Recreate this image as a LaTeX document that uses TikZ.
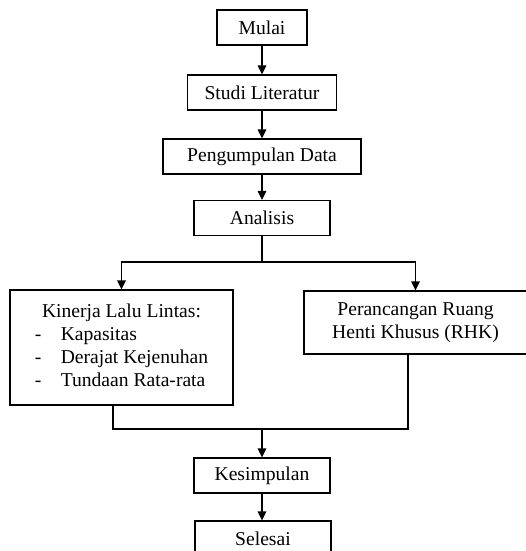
\documentclass[tikz,border=0pt]{standalone}
\usepackage{fontspec}
\setmainfont{Liberation Serif}
\usetikzlibrary{arrows.meta}

\tikzset{
	box/.style={draw, line width=1.1pt, rectangle, minimum height=35pt, inner sep=0pt,
		font=\fontsize{19.6}{23}\selectfont},
	arc/.style={line width=1.1pt},
	>={Triangle[length=9pt, width=8.5pt]}
}

\begin{document}
\begin{tikzpicture}[x=1pt, y=-1pt]

\clip (0,0) rectangle (526,551);

% NODES
\node[box, minimum width=90pt](mulai) at(262, 27.5) {Mulai};
\node[box, minimum width=149pt](studi) at(262, 92.5) {Studi Literatur};
\node[box, minimum width=198pt](data) at(262, 156.5) {Pengumpulan Data};
\node[box, minimum width=136pt](analisis) at(262, 218) {Analisis};

\node[box, minimum width=223pt, minimum height=115pt](kinerja) at(121.5, 347.5) {%
	\begin{tabular}{@{}p{26pt}@{}l@{}}
	\multicolumn{2}{@{}c@{}}{Kinerja Lalu Lintas:}\\
	-& Kapasitas\\
	-& Derajat Kejenuhan\\
	-& Tundaan Rata-rata
	\end{tabular}};
\node[box, minimum width=223pt, minimum height=63pt, align=center](rhk) at(415.5, 322.5)
	{Perancangan Ruang\\Henti Khusus (RHK)};

\node[box, minimum width=136pt](kesimpulan) at(262, 475.5) {Kesimpulan};
\node[box, minimum width=136pt](selesai) at(263, 538.5) {Selesai};

\coordinate(split) at(262, 262);
\coordinate(join) at(262, 429);

% ARCS
\foreach \u \v in{
	mulai/studi, studi/data, data/analisis, kesimpulan/selesai%
}{
	\draw[arc, ->] (\u.south) -- (\u.south |- \v.north);
}

\draw[arc] (analisis) -- (split);
\draw[arc, ->] (split) -| (kinerja);
\draw[arc, ->] (split) -| (rhk);

\draw[arc] ([xshift=-8.5pt]kinerja.south) |- (join) -| ([xshift=-7.5pt]rhk.south);
\draw[arc, ->] (join) -- (kesimpulan);

\end{tikzpicture}
\end{document}
